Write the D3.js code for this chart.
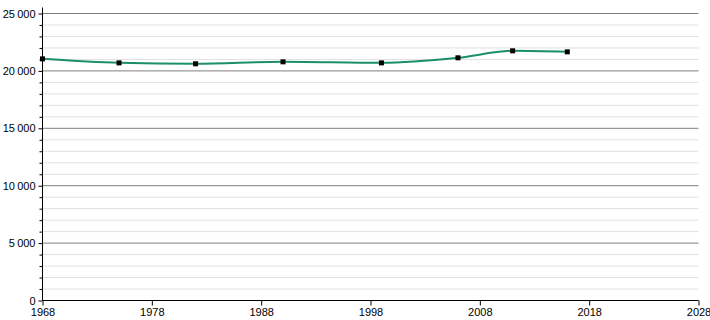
<!DOCTYPE html>
<html>
<head>
<meta charset="utf-8">
<script src="https://cdn.jsdelivr.net/npm/d3@7"></script>
<style>
  body { margin: 0; background: #fff; }
  text { font-family: "Liberation Sans", Arial, sans-serif; font-size: 11px; fill: #000; }
</style>
</head>
<body>
<svg id="chart" width="710" height="320"></svg>
<script>
// census years and population
let years = [1968, 1975, 1982, 1990, 1999, 2006, 2011, 2016];
let population = [21050, 20700, 20620, 20790, 20700, 21140, 21750, 21660];
let xTicks = [1968, 1978, 1988, 1998, 2008, 2018, 2028];
let yTicks = [0, 5000, 10000, 15000, 20000, 25000];

let svg = d3.select("#chart");

let x = d3.scaleLinear().domain([1968, 2028]).range([42.5, 698.5]);
let y = d3.scaleLinear().domain([0, 25000]).range([300.5, 13.5]);

let fmt = d => d3.format(",")(d).replace(/,/g, "\u202f");

// minor gridlines every 1000
svg.append("g").selectAll("line")
    .data(d3.range(1000, 25001, 1000).filter(v => v % 5000 !== 0))
    .join("line")
    .attr("x1", x(1968)).attr("x2", x(2028))
    .attr("y1", d => y(d)).attr("y2", d => y(d))
    .attr("stroke", "#e0e0e0");

// major gridlines
svg.append("g").selectAll("line")
    .data(yTicks.filter(v => v > 0))
    .join("line")
    .attr("x1", x(1968)).attr("x2", x(2028))
    .attr("y1", d => y(d)).attr("y2", d => y(d))
    .attr("stroke", "#808080");

// y axis
let yAxis = svg.append("g").attr("transform", `translate(${x(1968)},0)`)
    .call(d3.axisLeft(y).tickValues(yTicks).tickFormat(fmt).tickSize(4).tickPadding(3));
yAxis.select(".domain").attr("stroke", "#000").attr("d", `M0,${y(25000) - 6}V${y(0)}`);
yAxis.selectAll("text").style("font-size", "11px");
svg.append("g").attr("transform", `translate(${x(1968)},0)`)
    .call(d3.axisLeft(y).tickValues(d3.range(1000, 25000, 1000).filter(v => v % 5000 !== 0)).tickFormat("").tickSize(3))
    .select(".domain").remove();

// x axis
let xAxis = svg.append("g").attr("transform", `translate(0,${y(0)})`)
    .call(d3.axisBottom(x).tickValues(xTicks).tickFormat(d3.format("d")).tickSize(5).tickPadding(3));
xAxis.select(".domain").attr("stroke", "#000").attr("d", `M${x(1968)},0H${x(2028)}`);
xAxis.selectAll("text").style("font-size", "11px");

// population line
let line = d3.line()
    .x((d, i) => x(years[i]))
    .y(d => y(d))
    .curve(d3.curveMonotoneX);

svg.append("path")
    .datum(population)
    .attr("d", line)
    .attr("fill", "none")
    .attr("stroke", "#1a8f6a")
    .attr("stroke-width", 2);

svg.append("g").selectAll("rect")
    .data(population)
    .join("rect")
    .attr("x", (d, i) => x(years[i]) - 2.5)
    .attr("y", d => y(d) - 2.5)
    .attr("width", 5).attr("height", 5)
    .attr("fill", "#000");
</script>
</body>
</html>
